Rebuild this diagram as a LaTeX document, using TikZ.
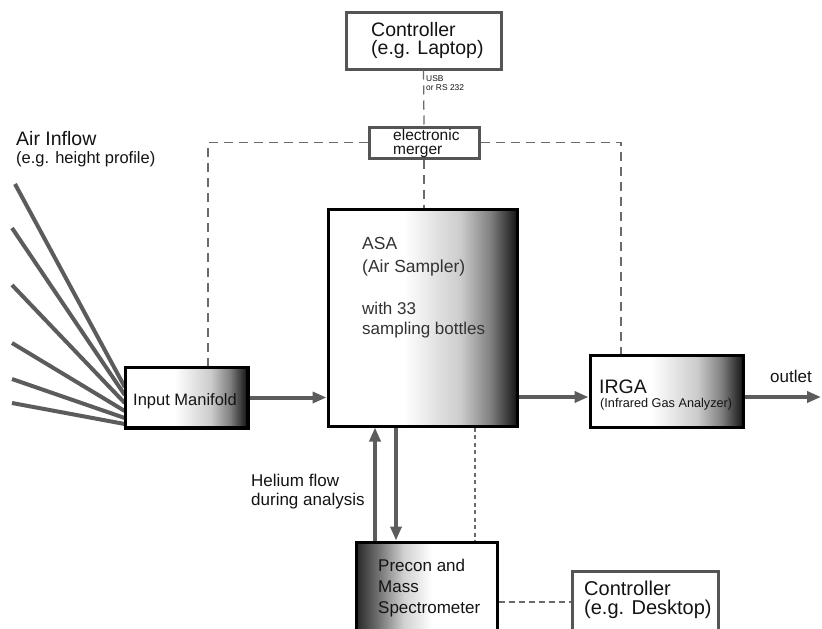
\documentclass[tikz,border=0pt]{standalone}
\usepackage{fontspec}
\setmainfont{Liberation Sans}
\usetikzlibrary{arrows.meta}
\definecolor{flowgray}{HTML}{5C5C5C}
\definecolor{framegray}{HTML}{555555}
\definecolor{dashgray}{HTML}{6A6A6A}
\pgfdeclarehorizontalshading{boxshade}{100bp}{color(0bp)=(white); color(25bp)=(white); color(45bp)=(white); color(60bp)=(black!20); color(68bp)=(black!50); color(75bp)=(black!92); color(100bp)=(black!92)}
\pgfdeclarehorizontalshading{precshade}{100bp}{color(0bp)=(black!85); color(25bp)=(black!85); color(33bp)=(black!55); color(42bp)=(black!18); color(52bp)=(white); color(100bp)=(white)}
\tikzset{
  fbox/.style={draw=black, line width=3pt, inner sep=0pt, rectangle},
  cbox/.style={draw=framegray, line width=3pt, inner sep=0pt, rectangle, fill=white},
  flow/.style={draw=flowgray, line width=4pt},
  flowarrow/.style={flow, -{Triangle[length=14pt,width=11pt]}},
  dsh/.style={draw=dashgray, line width=1.3pt, dash pattern=on 9pt off 6pt},
  fdsh/.style={draw=dashgray, line width=1.3pt, dash pattern=on 4pt off 3.5pt},
  mdsh/.style={draw=dashgray, line width=1.3pt, dash pattern=on 6pt off 4pt},
  txt/.style={anchor=base west, inner sep=0pt, text=black!92},
}
\begin{document}
\begin{tikzpicture}[x=1pt,y=-1pt]
\clip (0,0) rectangle (822,629);
\fill[white] (0,0) rectangle (822,629);

% coordinates
\coordinate (lc) at (208,0);
\coordinate (rc) at (621,0);
\coordinate (mc) at (475,0);
\coordinate (hu) at (375,0);
\coordinate (hd) at (396,0);
\coordinate (fy) at (0,397);
\coordinate (py) at (0,602);
\coordinate (out) at (821,397);
\coordinate (s1) at (15,184);
\coordinate (s2) at (12,228);
\coordinate (s3) at (12,285);
\coordinate (s4) at (12,343);
\coordinate (s5) at (12,379);
\coordinate (s6) at (12,403);

% boxes (drawn first as shapes, shading added)
\node[cbox, minimum width=155pt, minimum height=57pt] (lap) at (423.5,40.5) {};
\node[cbox, minimum width=110pt, minimum height=31pt] (merger) at (424,142.5) {};
\node[fbox, shading=boxshade, minimum width=189pt, minimum height=217pt] (asa) at (422.5,317.5) {};
\node[fbox, line width=2.5pt, shading=boxshade, minimum width=121pt, minimum height=59pt] (im) at (186.5,397.5) {};
\node[fbox, shading=boxshade, minimum width=153pt, minimum height=72pt] (irga) at (666.5,391) {};
\node[fbox, shading=precshade, minimum width=141pt, minimum height=118pt] (precon) at (426.5,601) {};
\node[cbox, minimum width=146pt, minimum height=89pt] (desk) at (645,615.5) {};

% control lines
\draw[dsh] (lap.south) -- (merger.north);
\draw[dsh] (merger.south) -- (merger.south |- asa.north);
\draw[dsh] (merger.west) -| (lc |- im.north);
\draw[dsh] (merger.east) -| (rc |- irga.north);
\draw[fdsh] (mc |- asa.south) -- (mc |- precon.north);
\draw[mdsh] (py -| precon.east) -- (py -| desk.west);

% inflow lines
\coordinate (e1) at (im.west |- 0,387);
\coordinate (e2) at (im.west |- 0,395);
\coordinate (e3) at (im.west |- 0,403);
\coordinate (e4) at (im.west |- 0,411);
\coordinate (e5) at (im.west |- 0,418);
\coordinate (e6) at (im.west |- 0,424);
\draw[flow] (s1) -- (e1);
\draw[flow] (s2) -- (e2);
\draw[flow] (s3) -- (e3);
\draw[flow] (s4) -- (e4);
\draw[flow] (s5) -- (e5);
\draw[flow] (s6) -- (e6);

% flow arrows
\draw[flowarrow] (im.east) -- (im.east -| asa.west);
\draw[flowarrow] (fy -| asa.east) -- (fy -| irga.west);
\draw[flowarrow] (fy -| irga.east) -- (out);
\draw[flowarrow] (hu |- precon.north) -- (hu |- asa.south);
\draw[flowarrow] (hd |- asa.south) -- (hd |- precon.north);

% redraw box borders over line ends
\draw[line width=2.5pt] (im.north west) rectangle (im.south east);

% texts
\node[txt, font=\fontsize{19.5}{20}\selectfont] (tl1) at (371,36) {Controller};
\node[txt, font=\fontsize{19.5}{20}\selectfont] (tl2) at (371,54) {(e.g. Laptop)};
\node[txt, font=\fontsize{8.4}{9}\selectfont] (tu1) at (426,81) {USB};
\node[txt, font=\fontsize{8.4}{9}\selectfont] (tu2) at (426,90) {or RS 232};
\node[txt, font=\fontsize{15.5}{16}\selectfont] (tm1) at (393,140) {electronic};
\node[txt, font=\fontsize{15.5}{16}\selectfont] (tm2) at (393,154) {merger};
\node[txt, font=\fontsize{19.5}{20}\selectfont] (ta1) at (16,145) {Air Inflow};
\node[txt, font=\fontsize{16.5}{17}\selectfont] (ta2) at (16,163) {(e.g. height profile)};
\node[txt, text=black!80, font=\fontsize{17.5}{18}\selectfont] (tasa1) at (362,249) {ASA};
\node[txt, text=black!80, font=\fontsize{17.5}{18}\selectfont] (tasa2) at (362,272) {(Air Sampler)};
\node[txt, text=black!80, font=\fontsize{17}{18}\selectfont] (tasa3) at (362,314) {with 33};
\node[txt, text=black!80, font=\fontsize{17}{18}\selectfont] (tasa4) at (362,334) {sampling bottles};
\node[txt, font=\fontsize{16.5}{17}\selectfont] (tim) at (133,405) {Input Manifold};
\node[txt, font=\fontsize{19.5}{20}\selectfont] (tir1) at (599,393) {IRGA};
\node[txt, font=\fontsize{12.7}{13}\selectfont] (tir2) at (600,407) {(Infrared Gas Analyzer)};
\node[txt, font=\fontsize{17}{18}\selectfont] (tout) at (770,382) {outlet};
\node[txt, font=\fontsize{17}{18}\selectfont] (th1) at (251,486) {Helium flow};
\node[txt, font=\fontsize{17}{18}\selectfont] (th2) at (251,505) {during analysis};
\node[txt, font=\fontsize{17}{18}\selectfont] (tp1) at (378,571) {Precon and};
\node[txt, font=\fontsize{17}{18}\selectfont] (tp2) at (378,592) {Mass};
\node[txt, font=\fontsize{17}{18}\selectfont] (tp3) at (378,613) {Spectrometer};
\node[txt, font=\fontsize{20}{20}\selectfont] (td1) at (584,595) {Controller};
\node[txt, font=\fontsize{20}{20}\selectfont] (td2) at (584,614) {(e.g. Desktop)};
\end{tikzpicture}
\end{document}
